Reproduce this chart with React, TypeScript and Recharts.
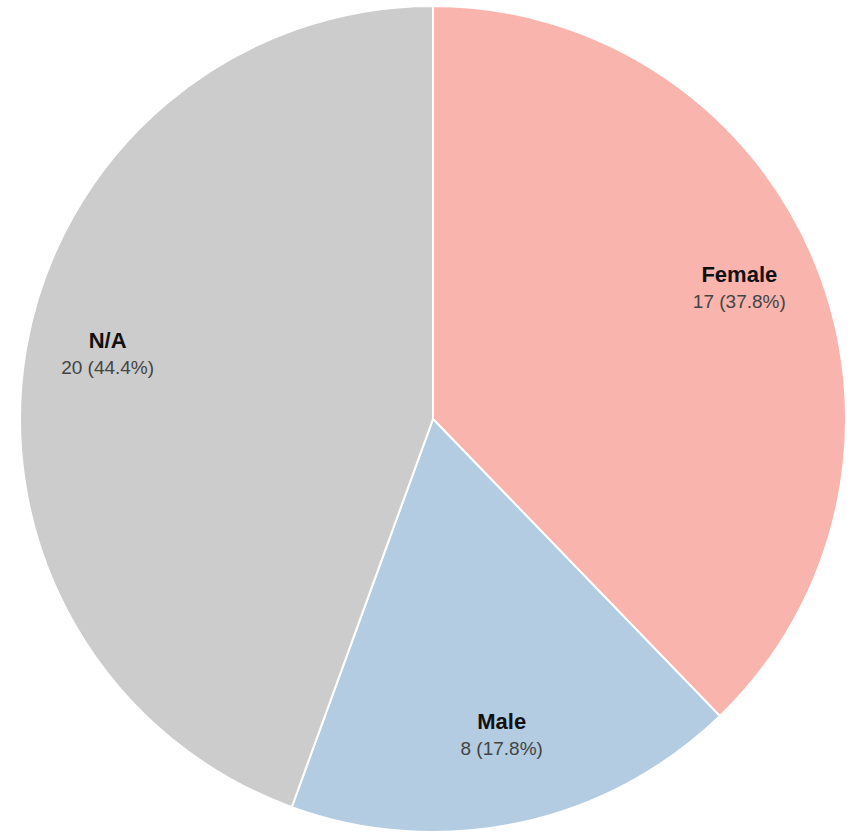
import { PieChart, Pie, Cell } from "recharts";

const categories = ["Female", "Male", "N/A"];
const counts = [17, 8, 20];
const colors = ["#FAB4AE", "#B3CCE2", "#CCCCCC"];

const data = categories.map((name, i) => ({ name, value: counts[i] }));
const total = counts.reduce((a, b) => a + b, 0);

const RADIAN = Math.PI / 180;

function renderLabel(props: any) {
  const { cx, cy, midAngle, outerRadius, name, value } = props;
  const r = outerRadius * 0.8;
  const x = cx + r * Math.cos(-midAngle * RADIAN);
  const y = cy + r * Math.sin(-midAngle * RADIAN);
  const pct = ((value / total) * 100).toFixed(1);
  return (
    <g>
      <text
        x={x}
        y={y - 21}
        textAnchor="middle"
        dominantBaseline="central"
        fontFamily="Liberation Sans, Arial, sans-serif"
        fontWeight="bold"
        fontSize={22}
        fill="#111"
      >
        {name}
      </text>
      <text
        x={x}
        y={y + 6}
        textAnchor="middle"
        dominantBaseline="central"
        fontFamily="Liberation Sans, Arial, sans-serif"
        fontSize={19}
        fill="#444"
      >
        {`${value} (${pct}%)`}
      </text>
    </g>
  );
}

export default function App() {
  return (
    <div style={{ position: "absolute", left: 0, top: 0, background: "#fff" }}>
      <PieChart width={855} height={833}>
        <Pie
          data={data}
          dataKey="value"
          nameKey="name"
          cx={428}
          cy={414}
          outerRadius={413}
          startAngle={90}
          endAngle={-270}
          stroke="#fff"
          strokeWidth={2}
          label={renderLabel}
          labelLine={false}
          isAnimationActive={false}
        >
          {data.map((d, i) => (
            <Cell key={d.name} fill={colors[i]} />
          ))}
        </Pie>
      </PieChart>
    </div>
  );
}
